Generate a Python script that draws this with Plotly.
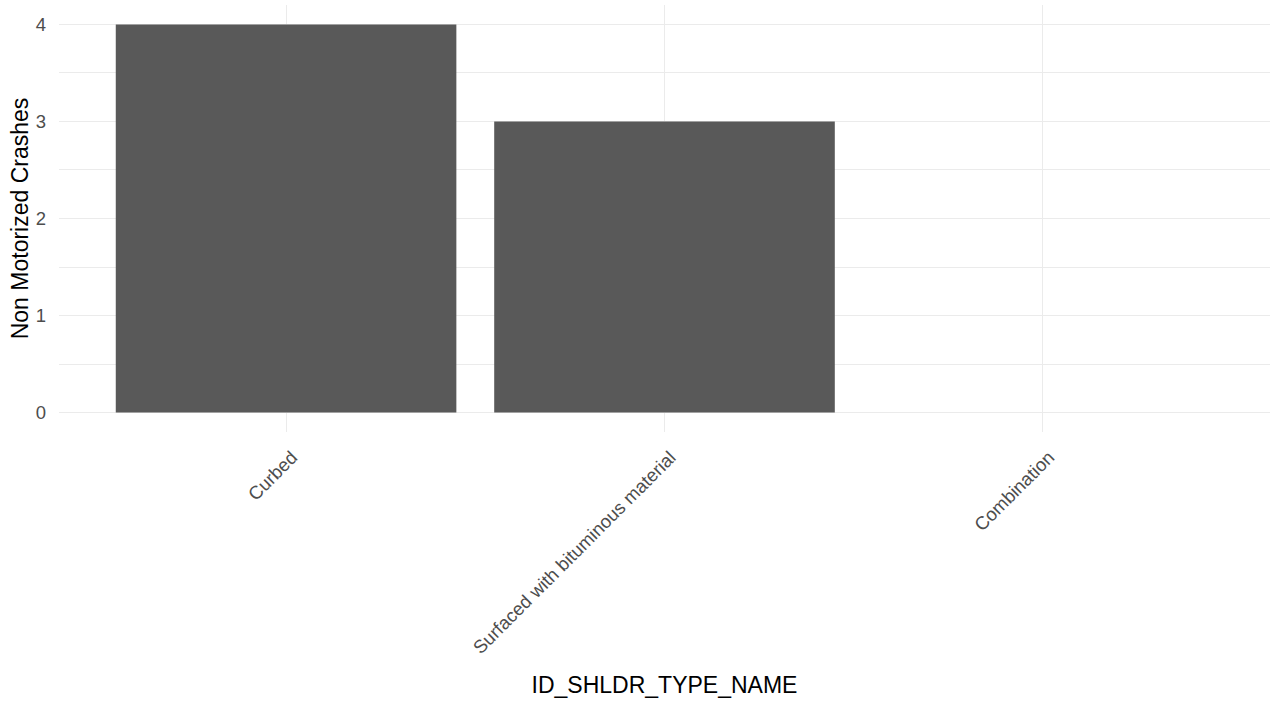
import plotly.graph_objects as go

categories = ["Curbed", "Surfaced with bituminous material", "Combination"]
crashes = [4, 3, 0]
y_ticks = [0, 1, 2, 3, 4]

fig = go.Figure(go.Bar(
    x=categories, y=crashes, marker=dict(color="#595959", line=dict(width=0)),
    width=0.9,
))

fig.update_layout(
    width=1283, height=702,
    plot_bgcolor="white", paper_bgcolor="white",
    margin=dict(l=59, r=13, t=4.5, b=269.5),
    font=dict(family="Liberation Sans, Arial, sans-serif", color="#000000"),
    showlegend=False,
    bargap=0.1,
)

fig.update_xaxes(
    type="category", range=[-0.6, 2.6], automargin=False,
    showgrid=True, gridcolor="#EBEBEB", gridwidth=1.07,
    zeroline=False, showline=False,
    tickangle=-45,
    ticks="",
    ticklabelstandoff=10, ticklabelshift=6,
    tickfont=dict(size=18.5, color="#4D4D4D"),
    title=dict(text="ID_SHLDR_TYPE_NAME", font=dict(size=23, color="#000000"), standoff=19),
)

fig.update_yaxes(
    range=[-0.2, 4.2], tickvals=y_ticks, automargin=False,
    showgrid=True, gridcolor="#EBEBEB", gridwidth=1.07,
    minor=dict(tickvals=[0.5, 1.5, 2.5, 3.5], showgrid=True, gridcolor="#EBEBEB", gridwidth=0.53),
    zeroline=False, showline=False,
    ticks="", ticklabelstandoff=12,
    tickfont=dict(size=18.5, color="#4D4D4D"),
    title=dict(text="Non Motorized Crashes", font=dict(size=23, color="#000000"), standoff=0),
)

fig.write_html("out.html", config={"displayModeBar": False},
               post_script="document.body.style.margin='0';")
